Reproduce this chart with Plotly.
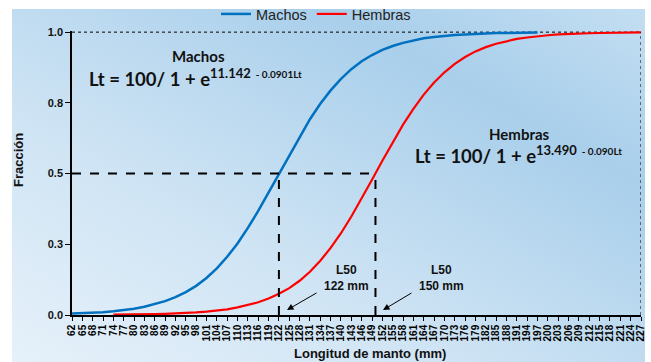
import base64
import plotly.graph_objects as go

# ---------------- data ----------------
machos_x = list(range(62, 198, 3))
machos_y = [0.005, 0.006, 0.008, 0.010, 0.013, 0.017, 0.022, 0.029, 0.038, 0.049,
            0.063, 0.081, 0.103, 0.131, 0.165, 0.206, 0.253, 0.308, 0.368, 0.433,
            0.500, 0.567, 0.632, 0.692, 0.747, 0.794, 0.835, 0.869, 0.897, 0.919,
            0.937, 0.951, 0.962, 0.971, 0.978, 0.983, 0.987, 0.990, 0.992, 0.994,
            0.996, 0.997, 0.997, 0.998, 0.999, 0.999]

hembras_x = list(range(74, 228, 3))
hembras_y = [0.001, 0.001, 0.002, 0.002, 0.003, 0.004, 0.005, 0.007, 0.009, 0.012,
             0.016, 0.020, 0.027, 0.035, 0.045, 0.058, 0.075, 0.095, 0.121, 0.153,
             0.192, 0.237, 0.289, 0.348, 0.411, 0.478, 0.545, 0.611, 0.673, 0.729,
             0.779, 0.822, 0.858, 0.888, 0.912, 0.932, 0.947, 0.959, 0.968, 0.976,
             0.981, 0.986, 0.989, 0.992, 0.994, 0.995, 0.996, 0.997, 0.998, 0.999,
             0.999, 0.999]

tick_vals_x = list(range(62, 228, 3))
tick_vals_y = [0.0, 0.25, 0.5, 0.75, 1.0]
tick_text_y = ["0.0", "0.3", "0.5", "0.8", "1.0"]

l50_machos = 122
l50_hembras = 150

# ---------------- figure ----------------
W, H = 651, 362
L, R, T, B = 72, 10, 31, 47
pw, ph = W - L - R, H - T - B

svg = (
    "<svg xmlns='http://www.w3.org/2000/svg' width='640' height='360' preserveAspectRatio='none'>"
    "<defs><linearGradient id='g' x1='0' y1='1' x2='1' y2='0'>"
    "<stop offset='0' stop-color='#e6f1fa'/>"
    "<stop offset='0.35' stop-color='#cfe4f4'/>"
    "<stop offset='0.75' stop-color='#a9cfeb'/>"
    "<stop offset='1' stop-color='#c3def2'/>"
    "</linearGradient></defs>"
    "<rect width='640' height='360' fill='url(#g)'/></svg>"
)
src = "data:image/svg+xml;base64," + base64.b64encode(svg.encode()).decode()

fig = go.Figure()
fig.add_trace(go.Scatter(x=machos_x, y=machos_y, mode="lines", name="Machos",
                         line=dict(color="#0070C0", width=2.5)))
fig.add_trace(go.Scatter(x=hembras_x, y=hembras_y, mode="lines", name="Hembras",
                         line=dict(color="#FF0000", width=2.2)))

bg_x0 = (12 - L) / pw
bg_x1 = (645 - L) / pw
bg_y0 = (H - B - 9) / ph
bg_y1 = (H - B - 362) / ph
fig.add_layout_image(dict(source=src, xref="paper", yref="paper",
                          x=bg_x0, y=bg_y0, sizex=bg_x1 - bg_x0, sizey=bg_y0 - bg_y1,
                          xanchor="left", yanchor="top", sizing="stretch", layer="below"))

shapes = [
    dict(type="line", xref="x", yref="y", x0=62, x1=l50_hembras, y0=0.5, y1=0.5,
         line=dict(color="black", width=2, dash="dash")),
    dict(type="line", xref="x", yref="y", x0=l50_machos, x1=l50_machos, y0=0, y1=0.5,
         line=dict(color="black", width=2, dash="dash")),
    dict(type="line", xref="x", yref="y", x0=l50_hembras, x1=l50_hembras, y0=0, y1=0.5,
         line=dict(color="black", width=2, dash="dash")),
    dict(type="line", xref="x", yref="y", x0=62, x1=227, y0=1, y1=1,
         line=dict(color="black", width=1, dash="dot"), layer="below"),
    dict(type="line", xref="x", yref="y", x0=227, x1=227, y0=0, y1=1,
         line=dict(color="black", width=1, dash="dot")),
]

bold = "Liberation Sans"
cal = "Lato"
ann = []
def px2x(px):
    return 62 + (px - L) * 165 / pw
def py2y(py):
    return (H - B - py) / ph

ann.append(dict(x=px2x(198), y=py2y(55), xref="x", yref="y", text="<b>Machos</b>",
                showarrow=False, font=dict(family=cal, size=15, color="#111")))
ann.append(dict(x=px2x(195), y=py2y(77), xref="x", yref="y",
                text="<b>Lt = 100/ 1 + e<sup><span style='font-size:13px'>11.142</span>"
                     "<span style='font-size:10px'>  - 0.0901Lt</span></sup></b>",
                showarrow=False, font=dict(family=cal, size=18.5, color="#111")))
ann.append(dict(x=px2x(519), y=py2y(133), xref="x", yref="y", text="<b>Hembras</b>",
                showarrow=False, font=dict(family=cal, size=15, color="#111")))
ann.append(dict(x=px2x(518), y=py2y(154), xref="x", yref="y",
                text="<b>Lt = 100/ 1 + e<sup><span style='font-size:13px'>13.490</span>"
                     "<span style='font-size:10px'>  - 0.090Lt</span></sup></b>",
                showarrow=False, font=dict(family=cal, size=18.5, color="#111")))
ann.append(dict(x=px2x(346), y=py2y(278), xref="x", yref="y", text="<b>L50<br>122 mm</b>",
                showarrow=False, font=dict(family=bold, size=12, color="#111")))
ann.append(dict(x=px2x(441), y=py2y(278), xref="x", yref="y", text="<b>L50<br>150 mm</b>",
                showarrow=False, font=dict(family=bold, size=12, color="#111")))
for tx, hx in [(318, 287), (413, 383)]:
    ann.append(dict(x=px2x(hx), y=py2y(310), ax=px2x(tx), ay=py2y(292),
                    xref="x", yref="y", axref="x", ayref="y", text="",
                    showarrow=True, arrowhead=2, arrowsize=1.3, arrowwidth=1, arrowcolor="black"))
ann.append(dict(x=(18 - L) / pw, y=(H - B - 160) / ph, xref="paper", yref="paper",
                xanchor="center", yanchor="middle",
                text="<b>Fracción</b>", textangle=-90, showarrow=False,
                font=dict(family=bold, size=13, color="#111")))
ann.append(dict(x=(370 - L) / pw, y=(H - B - 353) / ph, xref="paper", yref="paper",
                xanchor="center", yanchor="middle",
                text="<b>Longitud de manto (mm)</b>", showarrow=False,
                font=dict(family=bold, size=13, color="#111")))

fig.update_layout(
    width=W, height=H,
    margin=dict(l=L, r=R, t=T, b=B, pad=0, autoexpand=False),
    paper_bgcolor="white", plot_bgcolor="rgba(0,0,0,0)",
    shapes=shapes, annotations=ann,
    showlegend=True,
    legend=dict(orientation="h", x=(316 - L) / pw, y=(H - B - 14) / ph,
                xanchor="center", yanchor="middle", bgcolor="rgba(0,0,0,0)",
                font=dict(family=bold, size=14.5, color="#222"), itemwidth=30,
                tracegroupgap=0),
    xaxis=dict(range=[62, 227], tickmode="array", tickvals=tick_vals_x,
               ticktext=[f"<b>{v}</b>" for v in tick_vals_x], tickangle=-90,
               tickfont=dict(family=bold, size=10, color="#000"), automargin=False,
               showgrid=False, zeroline=False, showline=True, linecolor="black",
               linewidth=1.5, ticks="outside", ticklen=4, tickcolor="black"),
    yaxis=dict(range=[0, 1.004], tickmode="array", tickvals=tick_vals_y,
               ticktext=[f"<b>{t}</b>" for t in tick_text_y], automargin=False,
               tickfont=dict(family=bold, size=11, color="#111"),
               showgrid=False, zeroline=False, showline=True, linecolor="black",
               linewidth=1.5, ticks="outside", ticklen=5, tickcolor="black"),
)

fig.write_html("out.html")
